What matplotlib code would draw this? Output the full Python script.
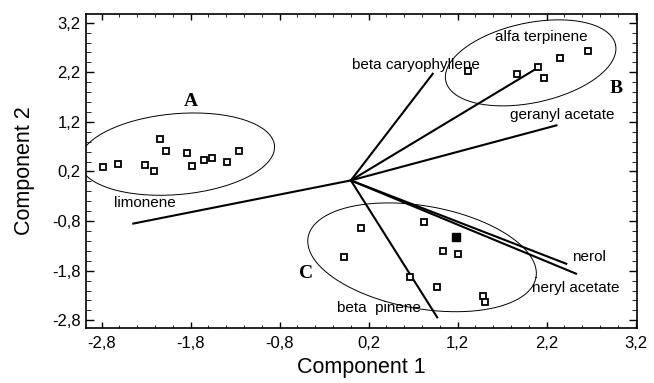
import matplotlib
matplotlib.use("Agg")
import matplotlib.pyplot as plt
import numpy as np

plt.rcParams['font.family'] = ['Liberation Sans', 'DejaVu Sans']

# PCA scores, one list per group
groupA_x = [-2.79, -2.62, -2.31, -2.21, -2.14, -2.08, -1.84, -1.78, -1.65, -1.56, -1.39, -1.26]
groupA_y = [0.29, 0.35, 0.33, 0.21, 0.86, 0.61, 0.58, 0.31, 0.44, 0.47, 0.40, 0.61]
groupB_x = [1.32, 1.87, 2.10, 2.17, 2.35, 2.66]
groupB_y = [2.22, 2.16, 2.31, 2.08, 2.48, 2.63]
groupC_x = [0.11, -0.08, 0.82, 1.04, 1.20, 0.66, 0.97, 1.49, 1.51]
groupC_y = [-0.94, -1.53, -0.82, -1.40, -1.47, -1.93, -2.13, -2.31, -2.43]
filled_x = [1.18]
filled_y = [-1.13]

# loading vectors (from origin) and their labels
origin = (0.0, 0.02)
load_names = ["limonene", "beta caryophyllene", "alfa terpinene", "geranyl acetate",
              "nerol", "neryl acetate", "beta  pinene"]
load_x = [-2.445, 0.92, 2.10, 2.31, 2.42, 2.53, 0.97]
load_y = [-0.85, 2.17, 2.29, 1.13, -1.66, -1.86, -2.74]
label_x = [-2.66, 0.01, 1.62, 1.79, 2.49, 2.04, -0.16]
label_y = [-0.44, 2.35, 2.92, 1.33, -1.52, -2.14, -2.56]

# group ellipses: centre, width (x units), height (y units), angle on screen
ell_names = ["A", "B", "C"]
ell_cx = [-1.954, 2.02, 0.80]
ell_cy = [0.55, 2.39, -1.53]
ell_w = [2.20, 1.95, 2.60]
ell_h = [1.63, 1.61, 2.07]
ell_ang = [5, 12, -10]
name_x = [-1.80, 2.98, -0.50]
name_y = [1.61, 1.87, -1.86]

ticks = [-2.8, -1.8, -0.8, 0.2, 1.2, 2.2, 3.2]
tick_labels = ["-2,8", "-1,8", "-0,8", "0,2", "1,2", "2,2", "3,2"]

fig = plt.figure(figsize=(6.54, 3.83), dpi=100)
ax = fig.add_axes([86/654, 1-328/383, (637-86)/654, (328-14)/383])
xlim = (-2.976, 3.215)
ylim = (-2.955, 3.375)
ax.set_xlim(xlim)
ax.set_ylim(ylim)

# pixels per data unit, to draw tilted ellipses correctly on screen
bb = ax.get_position()
sx = bb.width * 654 / (xlim[1] - xlim[0])
sy = bb.height * 383 / (ylim[1] - ylim[0])

t = np.linspace(0, 2*np.pi, 300)
for i in range(3):
    a = ell_w[i] / 2 * sx
    b = ell_h[i] / 2 * sy
    phi = np.radians(ell_ang[i])
    U = a*np.cos(t)*np.cos(phi) - b*np.sin(t)*np.sin(phi)
    V = a*np.cos(t)*np.sin(phi) + b*np.sin(t)*np.cos(phi)
    ax.plot(ell_cx[i] + U/sx, ell_cy[i] + V/sy, color='black', lw=0.7)
    ax.text(name_x[i], name_y[i], ell_names[i], family=['Liberation Serif'],
            fontweight='bold', fontsize=14, ha='center', va='center')

for i in range(len(load_names)):
    ax.plot([origin[0], load_x[i]], [origin[1], load_y[i]], color='black', lw=1.5)
    ax.text(label_x[i], label_y[i], load_names[i], fontsize=11, ha='left', va='center')

for gx, gy in [(groupA_x, groupA_y), (groupB_x, groupB_y), (groupC_x, groupC_y)]:
    ax.plot(gx, gy, 's', ms=4.5, mfc='white', mec='black', mew=1.3)
ax.plot(filled_x, filled_y, 's', ms=5.5, mfc='black', mec='black')

ax.set_xticks(ticks)
ax.set_xticklabels(tick_labels)
ax.set_yticks(ticks)
ax.set_yticklabels(tick_labels)
ax.set_xticks(np.arange(-2.8, 3.25, 0.2), minor=True)
ax.set_yticks(np.arange(-2.8, 3.25, 0.2), minor=True)
ax.tick_params(direction='in', top=True, right=True, labelsize=12, width=1)
ax.tick_params(axis='x', which='major', length=4, pad=6)
ax.tick_params(axis='x', which='minor', length=2.2, top=True, direction='in')
ax.tick_params(axis='y', which='major', length=6, pad=4)
ax.tick_params(axis='y', which='minor', length=3.6, right=True, direction='in')
for s in ax.spines.values():
    s.set_linewidth(1.2)

ax.set_xlabel("Component 1", fontsize=15.5, labelpad=4)
ax.set_ylabel("Component 2", fontsize=15.5, labelpad=12)

fig.savefig("out.png", dpi=100)
